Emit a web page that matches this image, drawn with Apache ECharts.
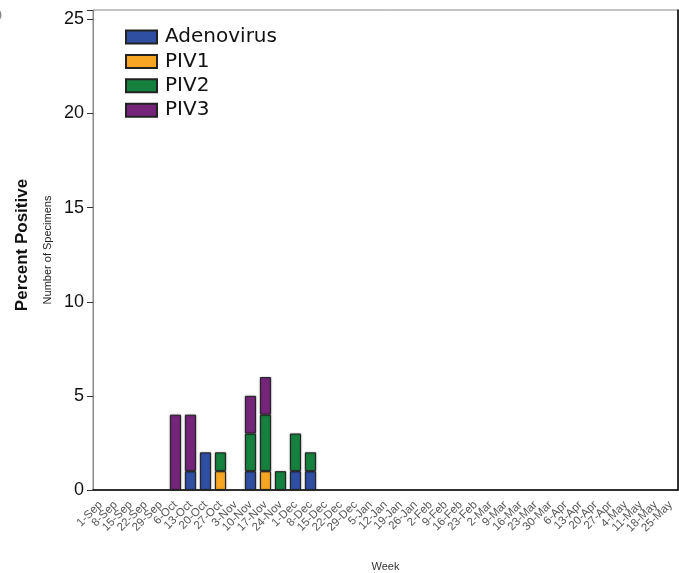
<!DOCTYPE html>
<html><head><meta charset="utf-8">
<script src="https://cdn.jsdelivr.net/npm/echarts@6/dist/echarts.min.js"></script>
<style>html,body{margin:0;padding:0;background:#fff}#c{width:679px;height:573px}</style>
</head><body><div id="c"></div>
<script>
const weeks = ["1-Sep","8-Sep","15-Sep","22-Sep","29-Sep","6-Oct","13-Oct","20-Oct","27-Oct","3-Nov","10-Nov","17-Nov","24-Nov","1-Dec","8-Dec","15-Dec","22-Dec","29-Dec","5-Jan","12-Jan","19-Jan","26-Jan","2-Feb","9-Feb","16-Feb","23-Feb","2-Mar","9-Mar","16-Mar","23-Mar","30-Mar","6-Apr","13-Apr","20-Apr","27-Apr","4-May","11-May","18-May","25-May"];
const adenovirus = [0,0,0,0,0,0,1,2,0,0,1,0,0,1,1,0,0,0,0,0,0,0,0,0,0,0,0,0,0,0,0,0,0,0,0,0,0,0,0];
const piv1       = [0,0,0,0,0,0,0,0,1,0,0,1,0,0,0,0,0,0,0,0,0,0,0,0,0,0,0,0,0,0,0,0,0,0,0,0,0,0,0];
const piv2       = [0,0,0,0,0,0,0,0,1,0,2,3,1,2,1,0,0,0,0,0,0,0,0,0,0,0,0,0,0,0,0,0,0,0,0,0,0,0,0];
const piv3       = [0,0,0,0,0,4,3,0,0,0,2,2,0,0,0,0,0,0,0,0,0,0,0,0,0,0,0,0,0,0,0,0,0,0,0,0,0,0,0];
const yTicks = [0,5,10,15,20,25];

const names = ["Adenovirus","PIV1","PIV2","PIV3"];
const colors = ["#2f4fa3","#f6a623","#16803f","#74257a"];
const dataSets = [adenovirus, piv1, piv2, piv3];

const chart = echarts.init(document.getElementById('c'));
const font = "'Liberation Sans', Arial, sans-serif";
chart.setOption({
  animation: false,
  textStyle: {fontFamily: font},
  grid: {left: 93, top: 10, right: 1, bottom: 83, show: true, borderColor: '#888', borderWidth: 1,
    containLabel: false, outerBoundsMode: 'none'},
  legend: {
    left: 120, top: 22, orient: 'vertical', itemWidth: 31, itemHeight: 13, itemGap: 4.4,
    icon: 'rect',
    textStyle: {fontFamily: "'DejaVu Sans', sans-serif", fontSize: 20, color: '#111', padding: [0,0,0,3]},
    data: names
  },
  xAxis: {
    type: 'category', data: weeks,
    axisLine: {lineStyle: {color: '#000', width: 1.5}},
    axisTick: {show: false},
    axisLabel: {rotate: 45, fontSize: 11.5, color: '#555', interval: 0, margin: 13},
    name: 'Week', nameLocation: 'middle', nameGap: 71,
    nameTextStyle: {fontSize: 11, color: '#333'}
  },
  yAxis: [{
    type: 'value', min: 0, max: 25.5, interval: 5,
    splitLine: {show: false},
    axisLine: {show: true, lineStyle: {color: '#888'}},
    axisTick: {show: true, length: 6, lineStyle: {color: '#333'}},
    axisLabel: {fontSize: 18, color: '#111', margin: 9,
      formatter: v => yTicks.includes(v) ? String(v) : ''},
    name: 'Number of Specimens', nameLocation: 'middle', nameGap: 40, nameRotate: 90,
    nameTextStyle: {fontSize: 11, color: '#222'}
  }, {
    type: 'value', min: 0, max: 25.5, position: 'right',
    splitLine: {show: false},
    axisLine: {show: true, lineStyle: {color: '#000', width: 1.5}},
    axisTick: {show: false}, axisLabel: {show: false}
  }],
  graphic: [{
    type: 'text', rotation: Math.PI/2, x: 22, y: 245,
    style: {text: 'Percent Positive', font: 'bold 17px ' + font, fill: '#111',
      align: 'center', verticalAlign: 'middle'}
  }, {
    type: 'text', x: -10, y: 8,
    style: {text: 'D', font: '17px ' + font, fill: '#888'}
  }],
  series: dataSets.map((d, i) => ({
    name: names[i], type: 'bar', stack: 'total', data: d.map(v => v === 0 ? '-' : v),
    barCategoryGap: '26%',
    itemStyle: {color: colors[i], borderColor: '#222', borderWidth: 1,
      shadowColor: 'rgba(0,0,0,0.35)', shadowBlur: 2}
  }))
});
</script></body></html>
